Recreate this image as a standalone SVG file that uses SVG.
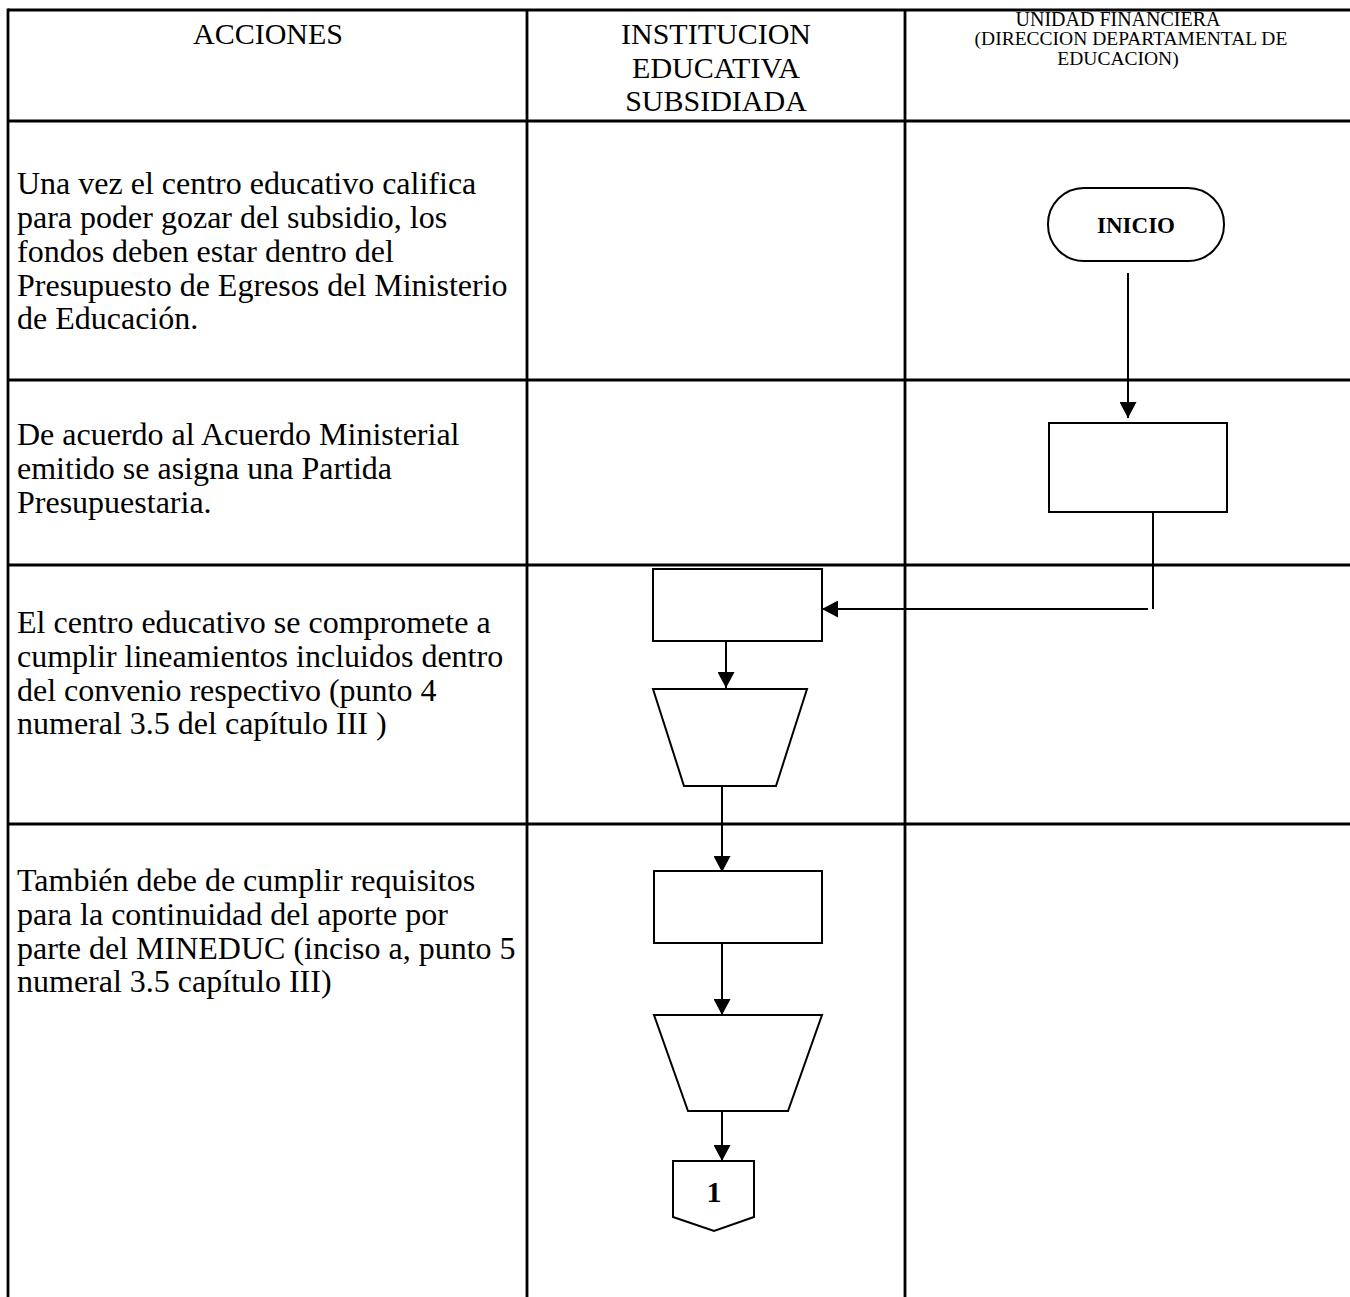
<svg xmlns="http://www.w3.org/2000/svg" width="1350" height="1297" viewBox="0 0 1350 1297">
  <style>
    .grid { stroke: #000; stroke-width: 2.8; fill: none; }
    .shape { stroke: #000; stroke-width: 2; fill: #fff; }
    .flow { stroke: #000; stroke-width: 2; fill: none; }
    .hdr { font-family: "Liberation Serif", "Times New Roman", serif; font-size: 30px; fill: #000; text-anchor: middle; }
    .hdr-sm { font-family: "Liberation Serif", "Times New Roman", serif; font-size: 20px; fill: #000; text-anchor: middle; }
    .hdr-xs { font-family: "Liberation Serif", "Times New Roman", serif; font-size: 19.5px; fill: #000; text-anchor: middle; }
    .act { font-family: "Liberation Serif", "Times New Roman", serif; font-size: 32px; fill: #000; }
    .lbl { font-family: "Liberation Serif", "Times New Roman", serif; font-weight: bold; fill: #000; text-anchor: middle; }
  </style>
  <defs>
    <marker id="arrow" markerUnits="userSpaceOnUse" markerWidth="17" markerHeight="17" viewBox="0 0 17 17" refX="16" refY="8.5" orient="auto">
      <path d="M0,0 L16,8.5 L0,17 Z" fill="#000"/>
    </marker>
  </defs>

  <rect width="1350" height="1297" fill="#fff"/>

  <!-- table grid -->
  <g id="table">
    <line class="grid" x1="8" y1="10" x2="1350" y2="10"/>
    <line class="grid" x1="8" y1="8.6" x2="8" y2="1297"/>
    <line class="grid" x1="527" y1="10" x2="527" y2="1297"/>
    <line class="grid" x1="905" y1="10" x2="905" y2="1297"/>
    <line class="grid" x1="8" y1="121" x2="1350" y2="121"/>
    <line class="grid" x1="8" y1="380" x2="1350" y2="380"/>
    <line class="grid" x1="8" y1="565" x2="1350" y2="565"/>
    <line class="grid" x1="8" y1="824" x2="1350" y2="824"/>
  </g>

  <!-- column headers -->
  <g id="headers">
    <text class="hdr" x="268" y="44">ACCIONES</text>
    <text class="hdr" x="716" y="44">INSTITUCION</text>
    <text class="hdr" x="716" y="78">EDUCATIVA</text>
    <text class="hdr" x="716" y="111">SUBSIDIADA</text>
    <text class="hdr-sm" x="1118" y="26">UNIDAD FINANCIERA</text>
    <text class="hdr-xs" x="1131" y="45">(DIRECCION DEPARTAMENTAL DE</text>
    <text class="hdr-xs" x="1118" y="65" font-size="18">EDUCACION)</text>
  </g>

  <!-- action descriptions -->
  <g id="actions">
    <text class="act" x="17" y="194">Una vez el centro educativo califica</text>
    <text class="act" x="17" y="228">para poder gozar del subsidio, los</text>
    <text class="act" x="17" y="262">fondos deben estar dentro del</text>
    <text class="act" x="17" y="296">Presupuesto de Egresos del Ministerio</text>
    <text class="act" x="17" y="329">de Educación.</text>

    <text class="act" x="17" y="445">De acuerdo al Acuerdo Ministerial</text>
    <text class="act" x="17" y="479">emitido se asigna una Partida</text>
    <text class="act" x="17" y="513">Presupuestaria.</text>

    <text class="act" x="17" y="633">El centro educativo se compromete a</text>
    <text class="act" x="17" y="667">cumplir lineamientos incluidos dentro</text>
    <text class="act" x="17" y="701">del convenio respectivo (punto 4</text>
    <text class="act" x="17" y="734">numeral 3.5 del capítulo III )</text>

    <text class="act" x="17" y="891">También debe de cumplir requisitos</text>
    <text class="act" x="17" y="925">para la continuidad del aporte por</text>
    <text class="act" x="17" y="959">parte del MINEDUC (inciso a, punto 5</text>
    <text class="act" x="17" y="992">numeral 3.5 capítulo III)</text>
  </g>

  <!-- connectors -->
  <g id="connectors">
    <line class="flow" x1="1128" y1="273" x2="1128" y2="418" marker-end="url(#arrow)"/>
    <line class="flow" x1="1153" y1="512" x2="1153" y2="609"/>
    <line class="flow" x1="1148" y1="609" x2="822" y2="609" marker-end="url(#arrow)"/>
    <line class="flow" x1="726" y1="641" x2="726" y2="688" marker-end="url(#arrow)"/>
    <line class="flow" x1="722" y1="786" x2="722" y2="872" marker-end="url(#arrow)"/>
    <line class="flow" x1="722" y1="943" x2="722" y2="1015" marker-end="url(#arrow)"/>
    <line class="flow" x1="722" y1="1111" x2="722" y2="1161" marker-end="url(#arrow)"/>
  </g>

  <!-- nodes -->
  <g id="inicio">
    <rect class="shape" x="1048" y="188" width="176" height="73" rx="36" ry="36"/>
    <text class="lbl" x="1136" y="233" font-size="23">INICIO</text>
  </g>
  <g id="proceso-partida">
    <rect class="shape" x="1049" y="423" width="178" height="89"/>
  </g>
  <g id="proceso-convenio">
    <rect class="shape" x="653" y="569" width="169" height="72"/>
  </g>
  <g id="manual-convenio">
    <polygon class="shape" points="653,689 807,689 776,786 684,786"/>
  </g>
  <g id="proceso-requisitos">
    <rect class="shape" x="654" y="871" width="168" height="72"/>
  </g>
  <g id="manual-requisitos">
    <polygon class="shape" points="654,1015 822,1015 788,1111 688,1111"/>
  </g>
  <g id="conector-1">
    <polygon class="shape" points="673,1161 754,1161 754,1217 714,1231 673,1217"/>
    <text class="lbl" x="714" y="1202" font-size="30">1</text>
  </g>
</svg>
